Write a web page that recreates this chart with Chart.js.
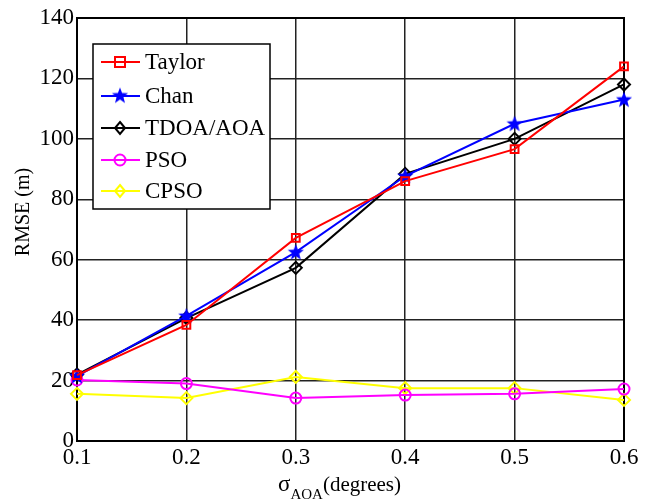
<!DOCTYPE html>
<html>
<head>
<meta charset="utf-8">
<script src="https://cdn.jsdelivr.net/npm/chart.js@4"></script>
<style>
  html, body { margin: 0; padding: 0; background: #fff; }
  #wrap { width: 654px; height: 502px; }
</style>
</head>
<body>
<div id="wrap"><canvas id="chart" width="654" height="502"></canvas></div>
<script>
// data
const sigmaAoa = [0.1, 0.2, 0.3, 0.4, 0.5, 0.6];
const taylor = [21.8, 38.4, 67.2, 86, 96.6, 124];
const chan = [21.5, 41.4, 62.5, 87.7, 105, 113];
const tdoaAoa = [22, 40.7, 57.3, 88.4, 100, 118];
const pso = [20.2, 19, 14.2, 15.2, 15.6, 17.2];
const cpso = [15.6, 14.2, 21.2, 17.5, 17.5, 13.6];
const yTicks = [0, 20, 40, 60, 80, 100, 120, 140];

const serif = "'Liberation Serif', 'Times New Roman', serif";

function starPath(ctx, cx, cy, r) {
  ctx.beginPath();
  for (let i = 0; i < 10; i++) {
    const rr = i % 2 === 0 ? r : r * 0.42;
    const a = -Math.PI / 2 + i * Math.PI / 5;
    ctx.lineTo(cx + rr * Math.cos(a), cy + rr * Math.sin(a));
  }
  ctx.closePath();
}

// filled blue star for Chan
const starImg = document.createElement('canvas');
starImg.width = 18; starImg.height = 18;
(function () {
  const c = starImg.getContext('2d');
  starPath(c, 9, 9.5, 8.5);
  c.fillStyle = '#0000ff';
  c.fill();
})();

function drawMarker(ctx, kind, x, y, color) {
  ctx.save();
  ctx.strokeStyle = color;
  ctx.lineWidth = 2;
  if (kind === 'rect') {
    ctx.strokeRect(x - 5, y - 5, 10, 10);
  } else if (kind === 'circle') {
    ctx.beginPath(); ctx.arc(x, y, 5.5, 0, Math.PI * 2); ctx.stroke();
  } else if (kind === 'rectRot') {
    ctx.beginPath();
    ctx.moveTo(x, y - 6); ctx.lineTo(x + 5, y); ctx.lineTo(x, y + 6); ctx.lineTo(x - 5, y);
    ctx.closePath(); ctx.stroke();
  } else if (kind === 'star') {
    ctx.drawImage(starImg, x - 9, y - 9.5);
  }
  ctx.restore();
}

const series = [
  { label: 'Taylor', data: taylor, color: '#ff0000', marker: 'rect' },
  { label: 'Chan', data: chan, color: '#0000ff', marker: 'star' },
  { label: 'TDOA/AOA', data: tdoaAoa, color: '#000000', marker: 'rectRot' },
  { label: 'PSO', data: pso, color: '#ff00ff', marker: 'circle' },
  { label: 'CPSO', data: cpso, color: '#ffff00', marker: 'rectRot' }
];

const datasets = series.map(s => ({
  label: s.label,
  data: s.data.map((v, i) => ({ x: sigmaAoa[i], y: v })),
  borderColor: s.color,
  backgroundColor: s.color,
  borderWidth: 2,
  tension: 0,
  fill: false,
  clip: false,
  pointStyle: s.marker === 'star' ? starImg : s.marker,
  pointRadius: s.marker === 'rectRot' ? 6 : 5.5,
  pointBorderWidth: 2,
  pointBackgroundColor: 'rgba(0,0,0,0)',
  pointBorderColor: s.color
}));

// box, legend and axis titles
const decor = {
  id: 'decor',
  beforeDatasetsDraw(chart) {
    const ctx = chart.ctx;
    const a = chart.chartArea;
    ctx.save();
    ctx.strokeStyle = '#000';
    ctx.lineWidth = 2;
    ctx.strokeRect(a.left, a.top, a.right - a.left, a.bottom - a.top);
    ctx.restore();
  },
  afterDatasetsDraw(chart) {
    const ctx = chart.ctx;
    ctx.save();

    // legend
    const lx = 93, ly = 44, lw = 177, lh = 165;
    ctx.fillStyle = '#fff';
    ctx.fillRect(lx, ly, lw, lh);
    ctx.strokeStyle = '#000';
    ctx.lineWidth = 1.5;
    ctx.strokeRect(lx, ly, lw, lh);
    const rows = [62, 96, 128, 160, 191];
    ctx.font = '23px ' + serif;
    ctx.textBaseline = 'middle';
    ctx.textAlign = 'left';
    series.forEach((s, i) => {
      const y = rows[i];
      ctx.strokeStyle = s.color;
      ctx.lineWidth = 2;
      ctx.beginPath(); ctx.moveTo(101, y); ctx.lineTo(140, y); ctx.stroke();
      drawMarker(ctx, s.marker, 120, y, s.color);
      ctx.fillStyle = '#000';
      ctx.fillText(s.label, 145, y + 1);
    });

    // y title
    ctx.save();
    ctx.translate(24, 212);
    ctx.rotate(-Math.PI / 2);
    ctx.font = '20px ' + serif;
    ctx.textAlign = 'center';
    ctx.textBaseline = 'middle';
    ctx.fillStyle = '#000';
    ctx.fillText('RMSE (m)', 0, 0);
    ctx.restore();

    // x title with subscript
    ctx.fillStyle = '#000';
    ctx.textBaseline = 'alphabetic';
    ctx.textAlign = 'left';
    let x = 278;
    ctx.font = '23px ' + serif;
    ctx.fillText('\u03c3', x, 491);
    x += ctx.measureText('\u03c3').width;
    ctx.font = '15px ' + serif;
    ctx.fillText('AOA', x, 499);
    x += ctx.measureText('AOA').width;
    ctx.font = '21px ' + serif;
    ctx.fillText('(degrees)', x, 491);
    ctx.restore();
  }
};

new Chart(document.getElementById('chart').getContext('2d'), {
  type: 'line',
  data: { datasets: datasets },
  options: {
    responsive: false,
    animation: false,
    layout: { padding: { left: 0, right: 30, top: 18, bottom: 0 } },
    plugins: { legend: { display: false }, tooltip: { enabled: false } },
    scales: {
      x: {
        type: 'linear',
        min: 0.1,
        max: 0.6,
        afterBuildTicks: s => { s.ticks = sigmaAoa.map(v => ({ value: v })); },
        afterFit: s => { s.height = 61; },
        ticks: {
          color: '#000',
          font: { family: serif, size: 23 },
          padding: 3,
          maxRotation: 0,
          callback: v => v.toFixed(1)
        },
        grid: { color: '#222', lineWidth: 1.5, drawTicks: false },
        border: { color: '#000', width: 2 }
      },
      y: {
        min: 0,
        max: 140,
        afterBuildTicks: s => { s.ticks = yTicks.map(v => ({ value: v })); },
        afterFit: s => { s.width = 77; },
        ticks: {
          color: '#000',
          font: { family: serif, size: 23 },
          padding: 3
        },
        grid: { color: '#222', lineWidth: 1.5, drawTicks: false },
        border: { color: '#000', width: 2 }
      }
    }
  },
  plugins: [decor]
});
</script>
</body>
</html>
